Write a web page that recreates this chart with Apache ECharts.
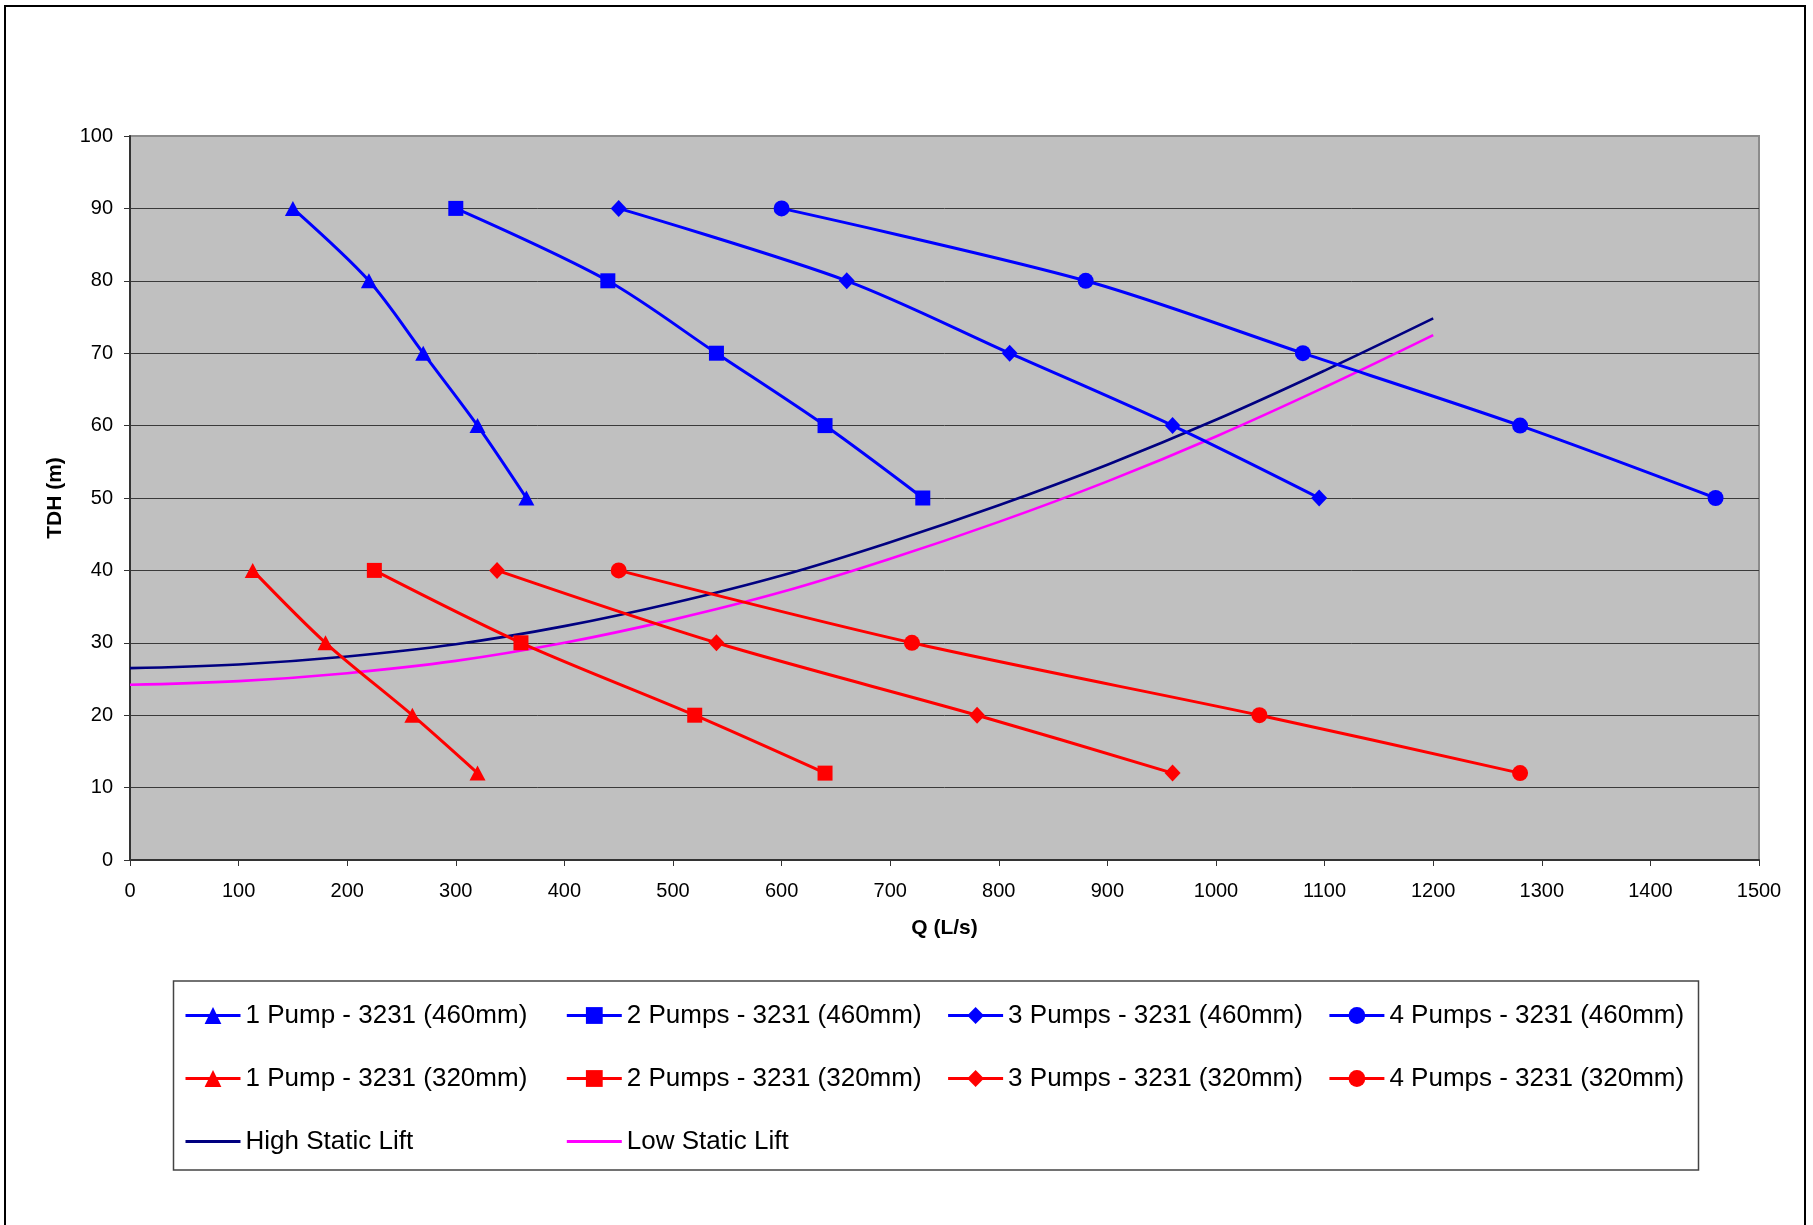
<!DOCTYPE html>
<html>
<head>
<meta charset="utf-8">
<script src="https://cdn.jsdelivr.net/npm/echarts@6/dist/echarts.min.js"></script>
<style>
  html, body { margin: 0; padding: 0; background: #ffffff; }
  #chart { width: 1813px; height: 1225px; }
</style>
</head>
<body>
<div id="chart"></div>
<script>
// Pump performance curves: head (m) at each duty point, flow (L/s) per combination
const head460 = [90, 80, 70, 60, 50];
const head320 = [40, 30, 20, 12];

const flow1Pump460 = [150, 220, 270, 320, 365];
const flow2Pumps460 = [300, 440, 540, 640, 730];
const flow3Pumps460 = [450, 660, 810, 960, 1095];
const flow4Pumps460 = [600, 880, 1080, 1280, 1460];

const flow1Pump320 = [113, 180, 260, 320];
const flow2Pumps320 = [225, 360, 520, 640];
const flow3Pumps320 = [338, 540, 780, 960];
const flow4Pumps320 = [450, 720, 1040, 1280];

// System curves
const systemFlow = [0, 100, 200, 300, 400, 500, 600, 700, 800, 900, 1000, 1100, 1200];
const highStaticHead = [26.5, 27.0, 28.1, 29.8, 32.3, 35.5, 39.3, 43.9, 49.0, 54.6, 60.8, 67.6, 74.8];
const lowStaticHead = [24.2, 24.7, 25.8, 27.5, 30.0, 33.2, 37.0, 41.6, 46.7, 52.3, 58.5, 65.3, 72.5];

const seriesNames = [
  '1 Pump - 3231 (460mm)', '2 Pumps - 3231 (460mm)', '3 Pumps - 3231 (460mm)', '4 Pumps - 3231 (460mm)',
  '1 Pump - 3231 (320mm)', '2 Pumps - 3231 (320mm)', '3 Pumps - 3231 (320mm)', '4 Pumps - 3231 (320mm)',
  'High Static Lift', 'Low Static Lift'
];

const xTicks = { min: 0, max: 1500, interval: 100 };
const yTicks = { min: 0, max: 100, interval: 10 };

const FONT = '"Liberation Sans", Arial, sans-serif';
const BLUE = '#0000FF';
const RED = '#FF0000';

const pairs = (xs, ys) => xs.map((x, i) => [x, ys[i]]);

const markers = {
  triangle: { symbol: 'triangle', symbolSize: [16, 15] },
  square: { symbol: 'rect', symbolSize: [15, 15] },
  diamond: { symbol: 'diamond', symbolSize: [16, 17] },
  circle: { symbol: 'circle', symbolSize: 16 }
};

function pumpSeries(name, xs, ys, color, marker) {
  return {
    name: name,
    type: 'line',
    data: pairs(xs, ys),
    smooth: 0.3,
    symbol: marker.symbol,
    symbolSize: marker.symbolSize,
    showAllSymbol: true,
    lineStyle: { color: color, width: 3 },
    itemStyle: { color: color },
    emphasis: { disabled: true },
    z: 3
  };
}

function systemSeries(name, ys, color) {
  return {
    name: name,
    type: 'line',
    data: pairs(systemFlow, ys),
    smooth: 0.4,
    symbol: 'none',
    lineStyle: { color: color, width: 2.6 },
    itemStyle: { color: color },
    emphasis: { disabled: true },
    z: 2
  };
}

const series = [
  pumpSeries(seriesNames[0], flow1Pump460, head460, BLUE, markers.triangle),
  pumpSeries(seriesNames[1], flow2Pumps460, head460, BLUE, markers.square),
  pumpSeries(seriesNames[2], flow3Pumps460, head460, BLUE, markers.diamond),
  pumpSeries(seriesNames[3], flow4Pumps460, head460, BLUE, markers.circle),
  pumpSeries(seriesNames[4], flow1Pump320, head320, RED, markers.triangle),
  pumpSeries(seriesNames[5], flow2Pumps320, head320, RED, markers.square),
  pumpSeries(seriesNames[6], flow3Pumps320, head320, RED, markers.diamond),
  pumpSeries(seriesNames[7], flow4Pumps320, head320, RED, markers.circle),
  systemSeries(seriesNames[8], highStaticHead, '#000080'),
  systemSeries(seriesNames[9], lowStaticHead, '#FF00FF')
];

// Legend: one entry per cell of a 4-column grid, three rows
const legendLeft0 = 184;
const legendColStep = 381.3;
const legendTops = [1002.5, 1065.5, 1128.5];
const lineOnly = new Set([seriesNames[8], seriesNames[9]]);

const legends = seriesNames.map((name, i) => {
  const row = i < 4 ? 0 : (i < 8 ? 1 : 2);
  const col = i < 8 ? i % 4 : i - 8;
  return {
    left: legendLeft0 + col * legendColStep,
    top: legendTops[row],
    padding: 0,
    itemGap: 0,
    itemWidth: 55,
    itemHeight: 21,
    selectedMode: false,
    lineStyle: { width: 3 },
    textStyle: { fontFamily: FONT, fontSize: 26, color: '#000' },
    data: [lineOnly.has(name) ? { name: name, itemStyle: { opacity: 0 } } : name]
  };
});

const chart = echarts.init(document.getElementById('chart'), null, { renderer: 'canvas' });

chart.setOption({
  animation: false,
  backgroundColor: '#ffffff',
  textStyle: { fontFamily: FONT },
  grid: {
    left: 130, top: 136, right: 54, bottom: 365,
    show: true,
    backgroundColor: '#C0C0C0',
    borderColor: '#8c8c8c',
    borderWidth: 2
  },
  legend: legends,
  graphic: [
    {
      type: 'rect', silent: true, z: -10,
      shape: { x: 5, y: 6, width: 1800, height: 1260 },
      style: { fill: 'none', stroke: '#000', lineWidth: 2 }
    },
    {
      type: 'rect', silent: true, z: -10,
      shape: { x: 173.5, y: 981, width: 1525, height: 189 },
      style: { fill: '#ffffff', stroke: '#444', lineWidth: 1.5 }
    }
  ],
  xAxis: {
    type: 'value',
    min: xTicks.min, max: xTicks.max, interval: xTicks.interval,
    name: 'Q (L/s)',
    nameLocation: 'middle',
    nameGap: 58,
    nameTextStyle: { fontFamily: FONT, fontSize: 21, fontWeight: 'bold', color: '#000' },
    axisLine: { show: true, onZero: false, lineStyle: { color: '#333', width: 2 } },
    axisTick: { show: true, inside: false, length: 6, lineStyle: { color: '#333', width: 1 } },
    axisLabel: { fontFamily: FONT, fontSize: 20, color: '#000', margin: 21, formatter: v => String(v) },
    splitLine: { show: false }
  },
  yAxis: {
    type: 'value',
    min: yTicks.min, max: yTicks.max, interval: yTicks.interval,
    name: 'TDH (m)',
    nameLocation: 'middle',
    nameGap: 64,
    nameTextStyle: { fontFamily: FONT, fontSize: 21, fontWeight: 'bold', color: '#000' },
    axisLine: { show: true, onZero: false, lineStyle: { color: '#333', width: 2 } },
    axisTick: { show: true, inside: false, length: 6, lineStyle: { color: '#333', width: 1 } },
    axisLabel: { fontFamily: FONT, fontSize: 20, color: '#000', margin: 17, formatter: v => String(v) },
    splitLine: { show: true, showMinLine: false, showMaxLine: false, lineStyle: { color: '#3a3a3a', width: 1 } }
  },
  series: series
});
</script>
</body>
</html>
